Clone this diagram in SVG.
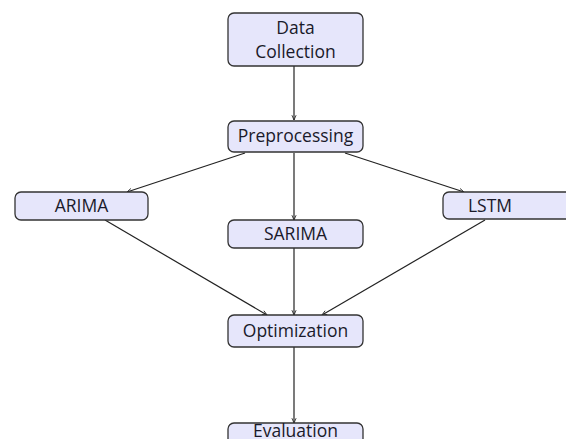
<svg xmlns="http://www.w3.org/2000/svg" width="566" height="439" viewBox="0 0 566 439">
<defs>
<marker id="ah" viewBox="0 0 10 10" refX="9" refY="5" markerWidth="6" markerHeight="6" orient="auto" markerUnits="userSpaceOnUse">
<path d="M1,1.5 L9,5 L1,8.5" fill="none" stroke="#222" stroke-width="1.4"/>
</marker>
</defs>
<style>
.box{fill:#e6e6fb;stroke:#333;stroke-width:1.3}
.t{font-family:"Open Sans","DejaVu Sans",sans-serif;font-size:17.5px;fill:#1a1a2a;text-anchor:middle}
.c{stroke:#222;stroke-width:1.2;fill:none;marker-end:url(#ah)}
</style>
<rect width="566" height="439" fill="#fff"/>
<g id="connectors">
<line class="c" x1="294" y1="66" x2="294" y2="120"/>
<line class="c" x1="245" y1="153" x2="127" y2="192"/>
<line class="c" x1="294" y1="153" x2="294" y2="220"/>
<line class="c" x1="345" y1="153" x2="464" y2="192"/>
<line class="c" x1="105" y1="220" x2="267" y2="315"/>
<line class="c" x1="294" y1="248" x2="294" y2="315"/>
<line class="c" x1="485" y1="220" x2="322" y2="315"/>
<line class="c" x1="294" y1="347" x2="294" y2="423"/>
</g>
<g id="data">
<rect class="box" x="228" y="13" width="135" height="53" rx="6"/>
<text class="t" x="295.5" y="34">Data</text>
<text class="t" x="295.5" y="58">Collection</text>
</g>
<g id="pre">
<rect class="box" x="228" y="121" width="135" height="31" rx="6"/>
<text class="t" x="295.5" y="142">Preprocessing</text>
</g>
<g id="arima">
<rect class="box" x="15" y="192" width="133" height="28" rx="6"/>
<text class="t" x="81.5" y="212">ARIMA</text>
</g>
<g id="sarima">
<rect class="box" x="228" y="220" width="135" height="28" rx="6"/>
<text class="t" x="295.5" y="240">SARIMA</text>
</g>
<g id="lstm">
<rect class="box" x="443" y="192" width="135" height="27" rx="6"/>
<text class="t" x="490" y="212">LSTM</text>
</g>
<g id="opt">
<rect class="box" x="228" y="315" width="135" height="32" rx="6"/>
<text class="t" x="295.5" y="337">Optimization</text>
</g>
<g id="eval">
<rect class="box" x="228" y="423" width="135" height="32" rx="6"/>
<text class="t" x="295.5" y="437">Evaluation</text>
</g>
</svg>
